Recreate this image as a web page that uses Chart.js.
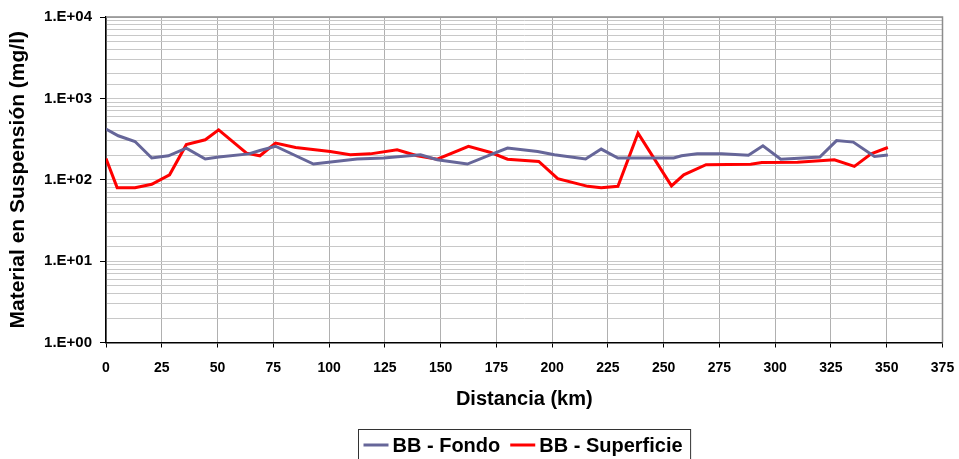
<!DOCTYPE html>
<html>
<head>
<meta charset="utf-8">
<script src="https://cdn.jsdelivr.net/npm/chart.js@4/dist/chart.umd.min.js"></script>
<style>
  html, body { margin: 0; padding: 0; background: #ffffff; }
  #wrap { width: 959px; height: 459px; }
</style>
</head>
<body>
<div id="wrap"><canvas id="c" width="959" height="459"></canvas></div>
<script>
// Suspended material along the river, bottom and surface samples
const fondoKm = [0, 5.5, 13, 20.5, 28, 36, 44.5, 50.5, 64, 69, 76, 93, 112.5, 124.5, 141, 148.5, 162, 172.5, 180, 193.5, 201, 215, 222, 229.5, 254.5, 258, 265, 276, 288, 294.5, 302.5, 308.5, 320, 327.5, 335, 344.5, 350.5];
const fondoVal = [420, 347, 295, 185, 197, 245, 180, 190, 208, 229, 258, 156, 180, 185, 203, 176, 156, 203, 245, 222, 203, 180, 238, 185, 185, 197, 208, 208, 200, 261, 179, 182, 190, 303, 290, 193, 201];

const superficieKm = [0, 5, 13, 20.5, 28.5, 36, 44.5, 50.5, 63, 69, 76, 85, 100.5, 109.5, 118.5, 130.5, 139.5, 148.5, 162.5, 172.5, 180, 194, 202.5, 216, 222, 229.5, 238.5, 253.5, 259, 269, 289, 294, 310, 326.5, 335.5, 343, 350.5];
const superficieVal = [182, 80, 80, 88, 115, 270, 310, 410, 212, 197, 282, 249, 222, 203, 208, 233, 197, 179, 257, 216, 179, 168, 103, 83, 80, 83, 374, 84, 115, 153, 155, 163, 164, 176, 146, 208, 249];

const seriesNames = ['BB - Fondo', 'BB - Superficie'];
const seriesColors = ['#666699', '#ff0000'];

const xTitle = 'Distancia (km)';
const yTitle = 'Material en Suspensión (mg/l)';
const xMax = 375, xStep = 25;
const yMin = 1, yMax = 10000;

const FONT = '"Liberation Sans", Arial, sans-serif';

function points(km, val) {
  return km.map((k, i) => ({ x: k, y: val[i] }));
}

function isDecade(v) {
  const e = Math.log10(v);
  return Math.abs(e - Math.round(e)) < 1e-9;
}

function sciLabel(v) {
  const e = Math.round(Math.log10(v));
  return '1.E' + (e < 0 ? '-' : '+') + String(Math.abs(e)).padStart(2, '0');
}

// Grey frame on the top and right edges of the plot area
const frame = {
  id: 'frame',
  beforeDatasetsDraw(chart) {
    const { ctx, chartArea: a } = chart;
    ctx.save();
    ctx.strokeStyle = '#8c8c8c';
    ctx.lineWidth = 1.5;
    ctx.beginPath();
    ctx.moveTo(a.left, a.top);
    ctx.lineTo(a.right, a.top);
    ctx.lineTo(a.right, a.bottom);
    ctx.stroke();
    ctx.restore();
  }
};

// Boxed legend under the axis title
const boxLegend = {
  id: 'boxLegend',
  afterDraw(chart) {
    const { ctx } = chart;
    const sets = chart.data.datasets;
    ctx.save();
    ctx.font = 'bold 20px ' + FONT;
    const lineLen = 25, gap = 4, between = 10, padL = 5, padR = 8;
    const widths = sets.map(d => ctx.measureText(d.label).width);
    let total = padL + padR + (sets.length - 1) * between;
    widths.forEach(w => total += lineLen + gap + w);
    const cx = 524;
    const left = Math.round(cx - total / 2) + 0.5;
    const top = 429.5;
    const cy = 445;
    ctx.strokeStyle = '#333333';
    ctx.lineWidth = 1;
    ctx.strokeRect(left, top, total, 60);
    let x = left + padL;
    ctx.textBaseline = 'middle';
    ctx.fillStyle = '#000000';
    sets.forEach((d, i) => {
      ctx.strokeStyle = d.borderColor;
      ctx.lineWidth = 3;
      ctx.beginPath();
      ctx.moveTo(x, cy);
      ctx.lineTo(x + lineLen, cy);
      ctx.stroke();
      x += lineLen + gap;
      ctx.fillText(d.label, x, cy + 1);
      x += widths[i] + between;
    });
    ctx.restore();
  }
};

new Chart(document.getElementById('c'), {
  type: 'line',
  data: {
    datasets: [
      {
        label: seriesNames[0],
        data: points(fondoKm, fondoVal),
        borderColor: seriesColors[0],
        backgroundColor: seriesColors[0],
        borderWidth: 3,
        pointRadius: 0,
        tension: 0,
        fill: false
      },
      {
        label: seriesNames[1],
        data: points(superficieKm, superficieVal),
        borderColor: seriesColors[1],
        backgroundColor: seriesColors[1],
        borderWidth: 3,
        pointRadius: 0,
        tension: 0,
        fill: false
      }
    ]
  },
  options: {
    responsive: false,
    animation: false,
    layout: { padding: { top: 17, right: 16.5, bottom: 0, left: 0 } },
    plugins: {
      legend: { display: false },
      tooltip: { enabled: false }
    },
    scales: {
      x: {
        type: 'linear',
        position: 'bottom',
        min: 0,
        max: xMax,
        afterFit(scale) {
          scale.height = 116.5;
          scale.paddingLeft = 0;
          scale.paddingRight = 0;
        },
        ticks: {
          stepSize: xStep,
          autoSkip: false,
          maxRotation: 0,
          padding: 12,
          color: '#000000',
          font: { family: FONT, size: 14, weight: 'bold' }
        },
        grid: {
          color: '#b0b0b0',
          lineWidth: 1,
          borderDash: [4, 3],
          tickLength: 5,
          tickColor: '#000000',
          tickWidth: 1,
          tickBorderDash: []
        },
        border: { display: true, color: '#000000', width: 1.5 },
        title: {
          display: true,
          text: xTitle,
          color: '#000000',
          font: { family: FONT, size: 20, weight: 'bold' },
          padding: { top: 0, bottom: 48 }
        }
      },
      y: {
        type: 'logarithmic',
        position: 'left',
        min: yMin,
        max: yMax,
        afterFit(scale) {
          scale.width = 106;
          scale.paddingTop = 0;
          scale.paddingBottom = 0;
        },
        ticks: {
          autoSkip: false,
          padding: 8,
          color: '#000000',
          font: { family: FONT, size: 15, weight: 'bold' },
          callback(v) { return isDecade(v) ? sciLabel(v) : ''; }
        },
        grid: {
          color: '#c8c8c8',
          lineWidth: 1,
          borderDash: [3, 3],
          tickLength: 6,
          tickColor(ctx) {
            return ctx.tick && isDecade(ctx.tick.value) ? '#000000' : 'rgba(0,0,0,0)';
          },
          tickWidth: 1,
          tickBorderDash: []
        },
        border: { display: true, color: '#000000', width: 1.5 },
        title: {
          display: true,
          text: yTitle,
          color: '#000000',
          font: { family: FONT, size: 21, weight: 'bold' },
          padding: { top: 6, bottom: 0 }
        }
      }
    }
  },
  plugins: [frame, boxLegend]
});
</script>
</body>
</html>
